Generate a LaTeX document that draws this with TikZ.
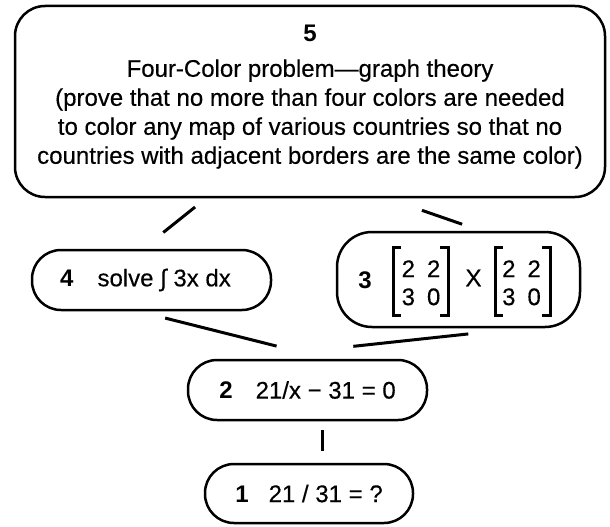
\documentclass[tikz,border=0pt]{standalone}
\usepackage{fontspec}
\setmainfont{Liberation Sans}[UprightFeatures={FakeBold=0.35}]
\usetikzlibrary{calc}
\begin{document}
\begin{tikzpicture}[x=1pt,y=-1pt,
  box/.style={draw, line width=2.5pt, inner sep=0pt, align=center},
  pill/.style={box, rounded corners=29pt, minimum height=60pt},
  conn/.style={line width=3pt},
  brk/.style={line width=3pt},
  txt/.style={font=\fontsize{24}{29}\selectfont},
  mat/.style={font=\fontsize{24}{28}\selectfont, inner sep=0pt}
]
\useasboundingbox (0,0) rectangle (610,527);
% box 5
\node[box, rounded corners=30pt, minimum width=590pt, minimum height=191pt] (n5) at (310,101.5) {};
\node[txt, align=center] (t5) at (310,97) {\textbf{5}\\[6pt]Four-Color problem—graph theory\\(prove that no more than four colors are needed\\to color any map of various countries so that  no\\countries with adjacent borders are the same color)};
% box 4
\node[pill, txt, minimum width=239pt] (n4) at (151.5,280) {\textbf{4}\hspace{24pt}solve ∫ 3x dx\hspace{12pt}};
% box 3
\node[box, rounded corners=35pt, minimum width=243pt, minimum height=95pt] (n3) at (458.5,279.5) {};
\node[txt] (t3) at (365,280) {\textbf{3}};
\node[mat] (m1) at (421,285.5) {\begin{tabular}{@{}c@{\hspace{12pt}}c@{}}2&2\\3&0\end{tabular}};
\node[txt] (x3) at (473.5,278) {X};
\node[mat] (m2) at (521.5,285.5) {\begin{tabular}{@{}c@{\hspace{12pt}}c@{}}2&2\\3&0\end{tabular}};
\draw[brk] (401,247) -- (393,247) -- (393,315) -- (401,315);
\draw[brk] (440,247) -- (448,247) -- (448,315) -- (440,315);
\draw[brk] (503,247) -- (495,247) -- (495,315) -- (503,315);
\draw[brk] (542,247) -- (550,247) -- (550,315) -- (542,315);
% box 2
\node[pill, txt, minimum width=239pt] (n2) at (307.5,390) {\textbf{2}\hspace{23pt}21/x − 31 = 0};
% box 1
\node[pill, txt, minimum width=208pt, minimum height=59pt] (n1) at (309,493.5) {\textbf{1}\hspace{20pt}21 / 31 = ?};
% connectors
\draw[conn, shorten <=14pt, shorten >=26pt] ([xshift=-104pt]n5.south) -- ([xshift=-8.5pt]n4.north);
\draw[conn, shorten <=37pt, shorten >=20pt] ([xshift=77pt]n5.south) -- ([xshift=22.5pt]n3.north);
\draw[conn, shorten <=28pt, shorten >=52pt] ([xshift=-13.5pt]n4.south) -- ([xshift=19.5pt]n2.north);
\draw[conn, shorten <=53pt, shorten >=116pt] ([xshift=62.5pt]n3.south) -- ([xshift=-69.5pt]n2.north);
\draw[conn, shorten <=9pt, shorten >=12pt] ([xshift=14.5pt]n2.south) -- ([xshift=13pt]n1.north);
\end{tikzpicture}
\end{document}
